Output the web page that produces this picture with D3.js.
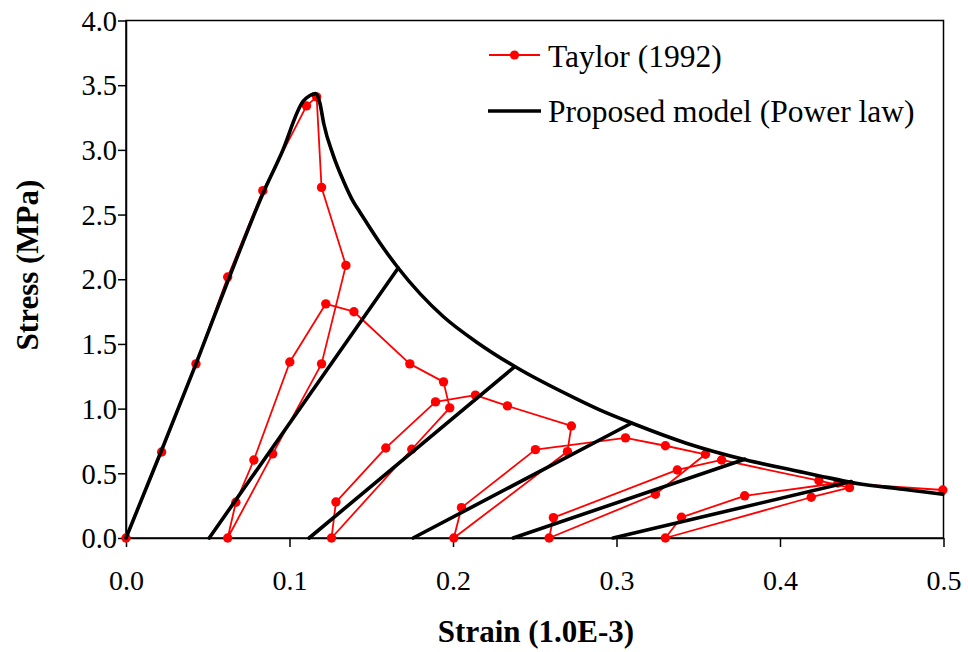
<!DOCTYPE html>
<html>
<head>
<meta charset="utf-8">
<script src="https://cdn.jsdelivr.net/npm/d3@7"></script>
<style>
  html, body { margin: 0; padding: 0; background: #fff; }
  svg { display: block; }
  text { font-family: "Liberation Serif", "Times New Roman", serif; fill: #000; }
</style>
</head>
<body>
<svg id="chart" width="968" height="652"></svg>
<script>
// ---------- data ----------
const xTicks = [0.0, 0.1, 0.2, 0.3, 0.4, 0.5];
const yTicks = [0.0, 0.5, 1.0, 1.5, 2.0, 2.5, 3.0, 3.5, 4.0];

// Taylor (1992) experimental cyclic curve, in drawing order
const taylorStrain = [0, 0.0218, 0.0428, 0.0622, 0.0837, 0.1104, 0.1166, 0.1196, 0.1345,
  0.1196, 0.0897, 0.0622, 0.0672, 0.0782, 0.1002, 0.1222, 0.1394, 0.1736, 0.1942,
  0.198, 0.1748, 0.1257, 0.1284, 0.1589, 0.1893, 0.2137, 0.2333, 0.2724,
  0.27, 0.2005, 0.2052, 0.2504, 0.3055, 0.3299, 0.3544,
  0.3238, 0.2588, 0.2614, 0.3372, 0.3643, 0.4238, 0.4425,
  0.4191, 0.3299, 0.3397, 0.3784, 0.4354, 0.4996];
const taylorStress = [0, 0.665, 1.346, 2.017, 2.685, 3.34, 3.41, 2.71, 2.107,
  1.346, 0.65, 0, 0.276, 0.603, 1.36, 1.81, 1.749, 1.346, 1.207,
  1.006, 0.686, 0, 0.278, 0.696, 1.052, 1.104, 1.021, 0.866,
  0.668, 0, 0.235, 0.683, 0.774, 0.713, 0.647,
  0.338, 0, 0.157, 0.526, 0.603, 0.443, 0.389,
  0.315, 0, 0.16, 0.326, 0.425, 0.371];

// Proposed model (power law): envelope curve
const envStrain = [0, 0.0218, 0.0428, 0.0626, 0.0839, 0.0952, 0.1084, 0.1125, 0.1161,
  0.1186, 0.121, 0.1267, 0.133, 0.139, 0.143, 0.1553, 0.1665, 0.194, 0.2154, 0.2378, 0.2755, 0.2897,
  0.310, 0.3427, 0.3794, 0.412, 0.4242, 0.4466, 0.4752, 0.4996];
const envStress = [0, 0.68, 1.346, 1.996, 2.667, 2.976, 3.376, 3.42, 3.435,
  3.36, 3.2, 2.96, 2.76, 2.6, 2.52, 2.28, 2.087, 1.712, 1.506, 1.325, 1.075, 0.99,
  0.885, 0.733, 0.603, 0.513, 0.48, 0.423, 0.377, 0.338];

// Proposed model: unloading/reloading branches
const unloadBaseStrain = [0.0509, 0.112, 0.1756, 0.2368, 0.2979];
const unloadTopStrain  = [0.1665, 0.2378, 0.3091, 0.3784, 0.4436];
const unloadTopStress  = [2.087, 1.325, 0.887, 0.609, 0.436];

const legendLabels = ["Taylor (1992)", "Proposed model (Power law)"];

// ---------- chart ----------
const svg = d3.select("#chart");
const x = d3.scaleLinear().domain([0, 0.5]).range([126, 943.5]);
const y = d3.scaleLinear().domain([0, 4]).range([538, 20.5]);

// plot frame
svg.append("rect")
  .attr("x", x(0)).attr("y", y(4))
  .attr("width", x(0.5) - x(0)).attr("height", y(0) - y(4))
  .attr("fill", "none").attr("stroke", "#000").attr("stroke-width", 1.5);

// axes
const fmt = d3.format(".1f");
const xAxis = svg.append("g")
  .attr("transform", `translate(0,${y(0)})`)
  .call(d3.axisBottom(x).tickValues(xTicks).tickFormat(fmt).tickSize(9).tickSizeOuter(0));
xAxis.selectAll("text").attr("dy", null).attr("y", 52)
  .style("font-size", "28px").style("font-family", "'Liberation Serif', serif");

const yAxis = svg.append("g")
  .attr("transform", `translate(${x(0)},0)`)
  .call(d3.axisLeft(y).tickValues(yTicks).tickFormat(fmt).tickSize(8).tickSizeOuter(0));
yAxis.selectAll("text").attr("x", -9).attr("dy", "0.34em")
  .style("font-size", "28.5px").style("font-family", "'Liberation Serif', serif");

[xAxis, yAxis].forEach(g => {
  g.select(".domain").attr("stroke", "#000").attr("stroke-width", 1.5);
  g.selectAll(".tick line").attr("stroke", "#000").attr("stroke-width", 1.5);
});

// axis titles
svg.append("text")
  .attr("x", 536).attr("y", 642)
  .attr("text-anchor", "middle")
  .style("font-size", "31px").style("font-weight", "bold")
  .text("Strain (1.0E-3)");
svg.append("text")
  .attr("transform", "translate(38,265) rotate(-90)")
  .attr("text-anchor", "middle")
  .style("font-size", "31px").style("font-weight", "bold")
  .text("Stress (MPa)");

// clip to plot
svg.append("clipPath").attr("id", "clip")
  .append("rect").attr("x", x(0) - 6).attr("y", y(4)).attr("width", x(0.5) - x(0) + 12).attr("height", y(0) - y(4) + 6);
const plot = svg.append("g").attr("clip-path", "url(#clip)");

// Taylor series
const taylor = taylorStrain.map((s, i) => [s, taylorStress[i]]);
const line = d3.line().x(d => x(d[0])).y(d => y(d[1]));
plot.append("path")
  .datum(taylor)
  .attr("d", line)
  .attr("fill", "none").attr("stroke", "#ff0000").attr("stroke-width", 1.8)
  .attr("stroke-linejoin", "round");
plot.selectAll("circle.taylor")
  .data(taylor).enter().append("circle")
  .attr("class", "taylor")
  .attr("cx", d => x(d[0])).attr("cy", d => y(d[1])).attr("r", 4.7)
  .attr("fill", "#ff0000");

// Model envelope
const env = envStrain.map((s, i) => [s, envStress[i]]);
plot.append("path")
  .datum(env)
  .attr("d", d3.line().x(d => x(d[0])).y(d => y(d[1])).curve(d3.curveMonotoneX))
  .attr("fill", "none").attr("stroke", "#000").attr("stroke-width", 3.6)
  .attr("stroke-linejoin", "round").attr("stroke-linecap", "round");

// Model unloading branches
unloadBaseStrain.forEach((b, i) => {
  plot.append("path")
    .datum([[b, 0], [unloadTopStrain[i], unloadTopStress[i]]])
    .attr("d", line)
    .attr("fill", "none").attr("stroke", "#000").attr("stroke-width", 3.6)
    .attr("stroke-linecap", "round");
});

// legend
const lg = svg.append("g");
lg.append("line").attr("x1", 489).attr("x2", 540).attr("y1", 55).attr("y2", 55)
  .attr("stroke", "#ff0000").attr("stroke-width", 1.8);
lg.append("circle").attr("cx", 514.5).attr("cy", 55).attr("r", 4.6).attr("fill", "#ff0000");
lg.append("text").attr("x", 548).attr("y", 67).style("font-size", "31.5px").text(legendLabels[0]);
lg.append("line").attr("x1", 488).attr("x2", 541).attr("y1", 111).attr("y2", 111)
  .attr("stroke", "#000").attr("stroke-width", 3.6);
lg.append("text").attr("x", 548).attr("y", 122).style("font-size", "31.5px").text(legendLabels[1]);
</script>
</body>
</html>
